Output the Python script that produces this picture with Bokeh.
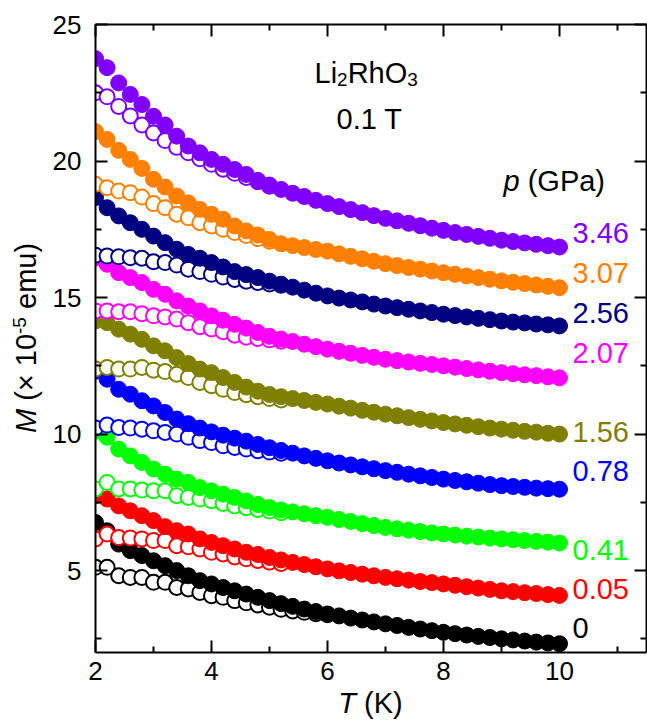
from bokeh.plotting import figure
from bokeh.models import (Label, LinearAxis, FixedTicker, CustomJSTickFormatter,
                          Range1d, ColumnDataSource, Div)
from bokeh.layouts import column, row
from bokeh.embed import file_html
from bokeh.resources import INLINE

# ---------------- data ----------------
T = [2.0, 2.2, 2.4, 2.6, 2.8, 3.0, 3.2, 3.4, 3.6, 3.8,
     4.0, 4.2, 4.4, 4.6, 4.8, 5.0, 5.2, 5.4, 5.6, 5.8,
     6.0, 6.2, 6.4, 6.6, 6.8, 7.0, 7.2, 7.4, 7.6, 7.8,
     8.0, 8.2, 8.4, 8.6, 8.8, 9.0, 9.2, 9.4, 9.6, 9.8, 10.0]

pressures = ["0", "0.05", "0.41", "0.78", "1.56", "2.07", "2.56", "3.07", "3.46"]
colors = ["#000000", "#FF0000", "#00FF00", "#0000FF", "#808000",
          "#FF00FF", "#000080", "#FF8000", "#8000FF"]

fc_0 = [6.76, 6.46, 5.97, 5.73, 5.55, 5.36, 5.18, 5.00, 4.81, 4.63,
        4.51, 4.38, 4.26, 4.14, 4.02, 3.90, 3.79, 3.69, 3.59, 3.50,
        3.41, 3.34, 3.26, 3.19, 3.12, 3.05, 2.99, 2.92, 2.86, 2.80,
        2.74, 2.69, 2.64, 2.59, 2.55, 2.50, 2.46, 2.42, 2.38, 2.35, 2.32]
fc_005 = [7.74, 7.62, 7.37, 7.19, 7.01, 6.83, 6.61, 6.46, 6.34, 6.16,
          6.03, 5.91, 5.79, 5.67, 5.59, 5.48, 5.39, 5.30, 5.22, 5.14,
          5.06, 4.99, 4.93, 4.87, 4.81, 4.75, 4.70, 4.65, 4.60, 4.56,
          4.51, 4.46, 4.41, 4.36, 4.31, 4.26, 4.23, 4.19, 4.16, 4.12, 4.09]
fc_041 = [10.10, 9.88, 9.45, 9.20, 8.96, 8.72, 8.53, 8.35, 8.23, 8.04,
          7.92, 7.80, 7.68, 7.55, 7.42, 7.31, 7.22, 7.15, 7.08, 7.01,
          6.95, 6.87, 6.80, 6.72, 6.65, 6.58, 6.53, 6.48, 6.43, 6.38,
          6.34, 6.30, 6.26, 6.23, 6.19, 6.16, 6.13, 6.10, 6.07, 6.04, 6.01]
fc_078 = [12.30, 12.01, 11.64, 11.46, 11.22, 11.03, 10.79, 10.55, 10.38, 10.22,
          10.08, 9.96, 9.85, 9.74, 9.62, 9.50, 9.40, 9.30, 9.20, 9.11,
          9.02, 8.94, 8.87, 8.80, 8.73, 8.66, 8.60, 8.53, 8.47, 8.41,
          8.35, 8.30, 8.25, 8.20, 8.15, 8.11, 8.08, 8.05, 8.02, 8.00, 7.98]
fc_156 = [14.14, 14.08, 13.84, 13.66, 13.47, 13.23, 13.05, 12.80, 12.58, 12.38,
          12.25, 12.07, 11.89, 11.72, 11.57, 11.45, 11.37, 11.30, 11.23, 11.16,
          11.10, 11.02, 10.95, 10.87, 10.80, 10.73, 10.67, 10.60, 10.54, 10.48,
          10.42, 10.37, 10.32, 10.27, 10.22, 10.18, 10.14, 10.10, 10.07, 10.03, 10.00]
fc_207 = [16.45, 16.22, 15.91, 15.73, 15.55, 15.30, 15.12, 14.88, 14.69, 14.51,
          14.33, 14.17, 14.02, 13.88, 13.72, 13.58, 13.48, 13.39, 13.29, 13.20,
          13.11, 13.03, 12.96, 12.88, 12.81, 12.74, 12.69, 12.64, 12.59, 12.55,
          12.50, 12.45, 12.40, 12.35, 12.30, 12.25, 12.21, 12.17, 12.14, 12.10, 12.06]
fc_256 = [18.66, 18.29, 17.99, 17.74, 17.50, 17.25, 17.01, 16.77, 16.58, 16.44,
          16.28, 16.12, 15.95, 15.84, 15.73, 15.60, 15.49, 15.38, 15.27, 15.16,
          15.06, 14.98, 14.91, 14.84, 14.76, 14.69, 14.63, 14.57, 14.51, 14.45,
          14.39, 14.34, 14.29, 14.24, 14.19, 14.14, 14.10, 14.07, 14.03, 14.00, 13.96]
fc_307 = [21.08, 20.79, 20.39, 20.06, 19.73, 19.33, 19.05, 18.72, 18.47, 18.23,
          18.05, 17.87, 17.62, 17.44, 17.29, 17.13, 16.97, 16.90, 16.83, 16.76,
          16.70, 16.60, 16.51, 16.42, 16.33, 16.24, 16.17, 16.10, 16.04, 15.97,
          15.91, 15.85, 15.79, 15.73, 15.67, 15.61, 15.56, 15.51, 15.46, 15.41, 15.36]
fc_346 = [23.75, 23.42, 22.86, 22.44, 22.07, 21.64, 21.32, 20.91, 20.55, 20.30,
          20.06, 19.88, 19.69, 19.51, 19.29, 19.12, 18.96, 18.82, 18.70, 18.56,
          18.44, 18.33, 18.22, 18.11, 18.00, 17.90, 17.81, 17.72, 17.63, 17.54,
          17.46, 17.38, 17.31, 17.24, 17.17, 17.10, 17.05, 17.00, 16.95, 16.90, 16.85]

zfc_0 = [5.12, 5.12, 4.81, 4.75, 4.75, 4.57, 4.57, 4.38, 4.33, 4.20,
         4.08, 4.02, 3.90, 3.82, 3.74, 3.66, 3.58, 3.52, 3.47, 3.42, 3.38]
zfc_005 = [6.16, 6.34, 6.21, 6.19, 6.16, 6.10, 6.10, 5.91, 5.87, 5.79,
           5.67, 5.61, 5.50, 5.43, 5.37, 5.31, 5.26]
zfc_041 = [7.99, 8.23, 7.99, 7.99, 7.95, 7.92, 7.92, 7.74, 7.68, 7.62,
           7.56, 7.46, 7.37, 7.30, 7.24, 7.18, 7.12]
zfc_078 = [10.22, 10.33, 10.24, 10.22, 10.18, 10.12, 10.06, 10.00, 9.88, 9.76,
           9.69, 9.57, 9.51, 9.45, 9.39, 9.34, 9.30]
zfc_156 = [12.38, 12.44, 12.38, 12.38, 12.44, 12.34, 12.29, 12.19, 12.07, 11.89,
           11.77, 11.64, 11.52, 11.44, 11.37, 11.30, 11.25]
zfc_207 = [14.51, 14.51, 14.48, 14.48, 14.41, 14.33, 14.29, 14.21, 14.08, 13.93,
           13.85, 13.75, 13.62, 13.55, 13.50, 13.45, 13.40]
zfc_256 = [16.55, 16.52, 16.49, 16.46, 16.44, 16.31, 16.28, 16.19, 16.04, 15.95,
           15.85, 15.75, 15.66, 15.60, 15.55, 15.50, 15.45]
zfc_307 = [19.15, 19.02, 18.90, 18.84, 18.68, 18.44, 18.29, 18.05, 17.92, 17.74,
           17.62, 17.50, 17.38, 17.27, 17.16, 17.06]
zfc_346 = [22.50, 22.35, 22.00, 21.65, 21.32, 21.03, 20.75, 20.50, 20.30, 20.08,
           19.88, 19.70, 19.55, 19.40, 19.24, 19.08]

fc_all = [fc_0, fc_005, fc_041, fc_078, fc_156, fc_207, fc_256, fc_307, fc_346]
zfc_all = [zfc_0, zfc_005, zfc_041, zfc_078, zfc_156, zfc_207, zfc_256, zfc_307, zfc_346]

x_ticks = [2, 4, 6, 8, 10]
x_minor = [3, 5, 7, 9, 11]
y_ticks = [5, 10, 15, 20, 25]
y_minor = [2.5, 7.5, 12.5, 17.5, 22.5]

# ---------------- layout ----------------
W, H = 647, 722
YL_W = 46            # width of the y-label strip
XL_H = 30            # height of the x-label strip
FL, FR, FT, FB = 95, 646, 24, 652    # frame in page pixels
X0, X1, Y0, Y1 = 2.0, 11.5, 2.0, 25.0
FONT = "Liberation Sans"


def px_x(px):
    return X0 + (px - FL) * (X1 - X0) / (FR - FL)


def px_y(py):
    return Y1 - (py - FT) * (Y1 - Y0) / (FB - FT)


ADV = {'0': .556, '1': .556, '2': .556, '3': .556, '4': .556, '5': .556, '6': .556,
       '7': .556, '8': .556, '9': .556, '.': .278, ' ': .278, '(': .333, ')': .333,
       'L': .556, 'i': .222, 'R': .722, 'h': .556, 'O': .778, 'M': .833,
       'G': .778, 'P': .667, 'a': .556, 'p': .556, 'T': .611, 'K': .667}


def tw(s, size):
    return sum(ADV.get(c, .556) for c in s) * size


PW, PH = W - YL_W, H - XL_H
p = figure(width=PW, height=PH, x_range=Range1d(X0, X1), y_range=Range1d(Y0, Y1),
           output_backend="svg", toolbar_location=None,
           min_border_left=FL - YL_W, min_border_right=W - FR, min_border_top=FT,
           min_border_bottom=PH - FB, margin=0)
p.outline_line_color = None
p.xgrid.visible = False
p.ygrid.visible = False
p.background_fill_color = "white"
p.border_fill_color = "white"

TICK_FS = "26px"


def style_axis(ax, ticks, minor, show_labels, standoff):
    ax.ticker = FixedTicker(ticks=ticks, minor_ticks=minor)
    ax.axis_line_width = 2
    ax.axis_line_color = "black"
    ax.major_tick_line_width = 2
    ax.minor_tick_line_width = 2
    ax.major_tick_in = 12
    ax.major_tick_out = 0
    ax.minor_tick_in = 6
    ax.minor_tick_out = 0
    ax.major_label_text_font = FONT
    ax.major_label_text_font_size = TICK_FS
    ax.major_label_text_color = "black"
    ax.major_label_standoff = standoff
    if not show_labels:
        ax.formatter = CustomJSTickFormatter(code="return '';")


style_axis(p.xaxis[0], x_ticks, x_minor, True, 9)
style_axis(p.yaxis[0], y_ticks, y_minor, True, 14)
top = LinearAxis()
right = LinearAxis()
style_axis(top, x_ticks, x_minor, False, 0)
style_axis(right, y_ticks, y_minor, False, 0)
p.add_layout(top, "above")
p.add_layout(right, "right")

# ---------------- data marks ----------------
for i in range(len(pressures)):
    c = colors[i]
    zfc = zfc_all[i]
    src_o = ColumnDataSource(dict(x=T[:len(zfc)], y=zfc))
    p.scatter("x", "y", source=src_o, marker="circle", size=15, line_width=2,
              line_color=c, fill_color="white")
    src_f = ColumnDataSource(dict(x=T, y=fc_all[i]))
    p.scatter("x", "y", source=src_f, marker="circle", size=16, line_width=1,
              line_color=c, fill_color=c)

# ---------------- texts inside the frame ----------------
LAB_FS = 29
lab_py = [627, 588, 549, 470, 431.7, 352, 312, 272.5, 232.5]
for i, txt in enumerate(pressures):
    p.add_layout(Label(x=px_x(572), y=px_y(lab_py[i]), text=txt, text_color=colors[i],
                       text_font=FONT, text_font_size=f"{LAB_FS}px",
                       text_align="left", text_baseline="middle"))

x_start = 503
p.add_layout(Label(x=px_x(x_start), y=px_y(180), text="p", text_font=FONT,
                   text_font_style="italic", text_font_size=f"{LAB_FS}px",
                   text_color="black", text_align="left", text_baseline="middle"))
p.add_layout(Label(x=px_x(x_start + tw("p ", LAB_FS)), y=px_y(180), text="(GPa)",
                   text_font=FONT, text_font_size=f"{LAB_FS}px", text_color="black",
                   text_align="left", text_baseline="middle"))

TF = 29
SUB = 19
pieces = [("Li", TF, 0), ("2", SUB, 7), ("RhO", TF, 0), ("3", SUB, 7)]
xx = 314
base = 72
for s, f, dy in pieces:
    p.add_layout(Label(x=px_x(xx), y=px_y(base + dy), text=s, text_font=FONT,
                       text_font_size=f"{f}px", text_color="black", text_align="left",
                       text_baseline="alphabetic"))
    xx += tw(s, f)
p.add_layout(Label(x=px_x(336), y=px_y(118), text="0.1 T", text_font=FONT,
                   text_font_size=f"{TF}px", text_color="black", text_align="left",
                   text_baseline="alphabetic"))

# ---------------- axis titles (HTML, outside the frame) ----------------
AF = 29
ycx = (FT + FB) / 2
ylab_html = (
    f'<div style="position:relative;width:{YL_W}px;height:{PH}px;">'
    f'<div style="position:absolute;left:{YL_W/2 - 200 + 3}px;top:{ycx - 26}px;'
    f'width:400px;height:52px;line-height:52px;transform:rotate(-90deg);'
    f'text-align:center;white-space:nowrap;font-family:\'{FONT}\';'
    f'font-size:{AF}px;color:#000;">'
    f'<i>M</i> (× 10<sup style="font-size:19px;line-height:0;vertical-align:0.55em;">-5</sup> emu)'
    f'</div></div>'
)
xlab_html = (
    f'<div style="position:relative;width:{W}px;height:{XL_H}px;">'
    f'<div style="position:absolute;left:0px;top:0px;width:{FL + FR}px;'
    f'line-height:22px;text-align:center;white-space:nowrap;'
    f'font-family:\'{FONT}\';font-size:{AF}px;color:#000;">'
    f'<i>T</i> (K)</div></div>'
)
ylab = Div(text=ylab_html, width=YL_W, height=PH, margin=0,
           styles={"overflow": "visible"})
xlab = Div(text=xlab_html, width=W, height=XL_H, margin=0,
           styles={"overflow": "visible"})

layout = column(row(ylab, p, spacing=0, margin=0), xlab, spacing=0, margin=0)

open("out.html", "w").write(file_html(layout, INLINE))
